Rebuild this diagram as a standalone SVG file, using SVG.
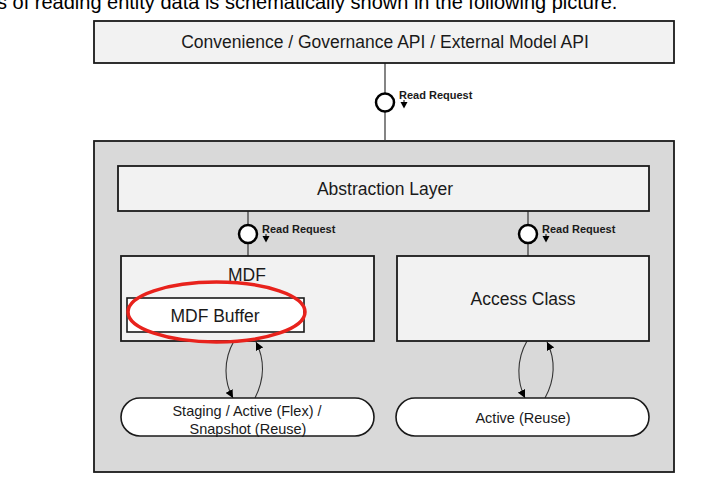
<svg xmlns="http://www.w3.org/2000/svg" width="728" height="484" viewBox="0 0 728 484">
<defs>
<style>
.box{fill:#f2f2f2;stroke:#1a1a1a;stroke-width:1.8}
.wbox{fill:#ffffff;stroke:#1a1a1a;stroke-width:1.6}
.lbl{font-family:"Liberation Sans",Arial,sans-serif;font-size:17.5px;fill:#1a1a1a;text-anchor:middle}
.sm{font-family:"Liberation Sans",Arial,sans-serif;font-size:14.5px;fill:#1a1a1a;text-anchor:middle}
.rr{font-family:"Liberation Sans",Arial,sans-serif;font-size:11px;font-weight:bold;fill:#1a1a1a}
.ln{stroke:#333;stroke-width:1.2;fill:none}
.port{fill:#fff;stroke:#000;stroke-width:2.5}
.arc{stroke:#333;stroke-width:1.1;fill:none;marker-end:url(#ah)}
</style>
<marker id="ah" viewBox="0 0 10 10" refX="10" refY="5" markerWidth="8" markerHeight="8" markerUnits="userSpaceOnUse" orient="auto">
<path d="M0,0 L10,5 L0,10 z" fill="#000"/>
</marker>
<path id="tri" d="M-3.5,0 L3.5,0 L0,6.5 z" fill="#000"/>
</defs>
<rect width="728" height="484" fill="#fff"/>
<text x="-3" y="9" font-family="'Liberation Sans',Arial,sans-serif" font-size="20" fill="#000">s of reading entity data is schematically shown in the following picture.</text>

<g id="outer">
<rect x="94" y="141" width="580" height="331" fill="#d9d9d9" stroke="#1a1a1a" stroke-width="1.8"/>
</g>

<g id="connectors">
<line class="ln" x1="385" y1="63" x2="385" y2="141"/>
<line class="ln" x1="248" y1="211" x2="248" y2="256"/>
<line class="ln" x1="528" y1="211" x2="528" y2="256"/>
<path class="arc" d="M234,341 C223,360 224,382 233,398"/>
<path class="arc" d="M255,398 C264,380 265,360 256,342"/>
<path class="arc" d="M527,341 C516,360 517,382 525,398"/>
<path class="arc" d="M545,398 C555,380 556,360 547,342"/>
</g>

<g id="port-top">
<circle class="port" cx="385" cy="102.5" r="9"/>
<text class="rr" x="399" y="99">Read Request</text>
<line x1="404" y1="100" x2="404" y2="103" stroke="#000" stroke-width="1"/>
<use href="#tri" x="404" y="102"/>
</g>
<g id="port-left">
<circle class="port" cx="248" cy="234" r="9"/>
<text class="rr" x="262" y="233">Read Request</text>
<line x1="266" y1="234" x2="266" y2="237" stroke="#000" stroke-width="1"/>
<use href="#tri" x="266" y="236"/>
</g>
<g id="port-right">
<circle class="port" cx="528" cy="234" r="9"/>
<text class="rr" x="542" y="233">Read Request</text>
<line x1="546" y1="234" x2="546" y2="237" stroke="#000" stroke-width="1"/>
<use href="#tri" x="546" y="236"/>
</g>

<g id="api">
<rect class="box" x="94" y="21" width="580" height="42"/>
<text class="lbl" x="385" y="48" font-size="18">Convenience / Governance API / External Model API</text>
</g>

<g id="abstraction">
<rect class="box" x="118" y="166" width="531" height="45"/>
<text class="lbl" x="385" y="195" font-size="18">Abstraction Layer</text>
</g>

<g id="mdf">
<rect class="box" x="121" y="256" width="253" height="85"/>
<text class="lbl" x="247" y="281">MDF</text>
</g>

<g id="mdf-buffer">
<rect class="wbox" x="127" y="298" width="177" height="34"/>
<text class="lbl" x="215" y="322">MDF Buffer</text>
<ellipse cx="216.5" cy="312" rx="88.5" ry="30" fill="none" stroke="#e8221c" stroke-width="3.5"/>
</g>

<g id="access">
<rect class="box" x="397" y="256" width="252" height="85"/>
<text class="lbl" x="523" y="305" font-size="16.5">Access Class</text>
</g>

<g id="staging">
<rect class="wbox" x="121" y="398" width="253" height="38" rx="19" ry="19"/>
<text class="sm" x="247" y="416">Staging / Active (Flex) /</text>
<text class="sm" x="248" y="434">Snapshot (Reuse)</text>
</g>

<g id="active">
<rect class="wbox" x="396" y="398" width="253" height="38" rx="19" ry="19"/>
<text class="sm" x="523" y="423" font-size="14">Active (Reuse)</text>
</g>
</svg>
